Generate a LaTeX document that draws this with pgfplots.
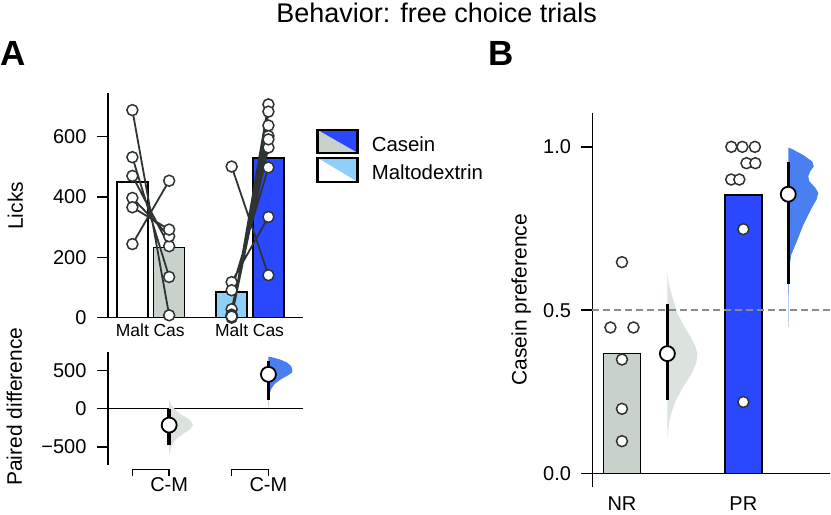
\documentclass[border=0pt]{standalone}
\usepackage{pgfplots}
\pgfplotsset{compat=1.18}
\usepackage{fontspec}
\setmainfont{Liberation Sans}
\definecolor{barGrey}{HTML}{C8D2CB}
\definecolor{barBlue}{HTML}{2A48FF}
\definecolor{barLight}{HTML}{8ED0F8}
\definecolor{violGrey}{HTML}{DCE3DE}
\definecolor{violBlue}{HTML}{4A7FF2}
\definecolor{lineDark}{HTML}{2E3333}
\newcommand{\fs}[1]{\fontsize{#1}{#1}\selectfont}
\begin{document}
\begin{tikzpicture}[x=1pt,y=1pt]
\path (0,0) rectangle (831,511);
\pgfplotsset{
 common/.style={
   scale only axis, clip=false,
   axis y line=left, axis x line=bottom,
   axis line style={-, line width=1.5pt, black},
   xtick style={draw=none},
   ytick style={line width=1.5pt, black},
   tick align=outside, major tick length=11pt,
   ticklabel style={font=\fs{20}},
   yticklabel shift=7pt,
 }
}
% ---------- Panel A top ----------
\begin{axis}[common, at={(108pt,193pt)}, anchor=south west, width=195pt, height=225pt,
 xmin=-0.666, xmax=4.633, ymin=0, ymax=745,
 ytick={0,200,400,600}, yticklabels={0,200,400,600},
 xtick={0,1,2.7,3.7}, xticklabels={Malt,Cas,Malt,Cas},
 xticklabel style={font=\fs{17.5}, yshift=8pt}]
\addplot[ybar, bar width=31pt, bar shift=0pt, fill=white, draw=black, line width=1.5pt] coordinates {(0,449.5)};
\addplot[ybar, bar width=31pt, bar shift=0pt, fill=barGrey, draw=black, line width=1.5pt] coordinates {(1,232.7)};
\addplot[ybar, bar width=31pt, bar shift=0pt, fill=barLight, draw=black, line width=1.5pt] coordinates {(2.7,85)};
\addplot[ybar, bar width=31pt, bar shift=0pt, fill=barBlue, draw=black, line width=1.5pt] coordinates {(3.7,528.6)};
\addplot[lineDark, line width=1.8pt, unbounded coords=jump] coordinates {
 (0,688) (1,8) (0,nan)
 (0,532) (1,135) (0,nan)
 (0,470) (1,237) (0,nan)
 (0,397) (1,270) (0,nan)
 (0,366) (1,292) (0,nan)
 (0,244) (1,454) (0,nan)
 (2.7,501) (3.7,141) (0,nan)
 (2.7,118) (3.7,334) (0,nan)
 (2.7,91) (3.7,498) (0,nan)
 (2.7,28) (3.7,564) (0,nan)
 (2.7,0) (3.7,707) (0,nan)
 (2.7,5) (3.7,683) (0,nan)
 (2.7,10) (3.7,637) (0,nan)
 (2.7,8) (3.7,602) (0,nan)
 (2.7,4) (3.7,591)
};
\addplot[only marks, mark=*, mark size=5.5pt, mark options={fill=white, draw=lineDark, line width=1.5pt}] coordinates {
 (0,688) (0,532) (0,470) (0,397) (0,366) (0,244)
 (1,8) (1,135) (1,237) (1,270) (1,292) (1,454)
 (2.7,501) (2.7,118) (2.7,91) (2.7,28) (2.7,0) (2.7,5) (2.7,10) (2.7,8) (2.7,4)
 (3.7,141) (3.7,334) (3.7,498) (3.7,564) (3.7,707) (3.7,683) (3.7,637) (3.7,602) (3.7,591)
};
\end{axis}
% ---------- Panel A bottom ----------
\begin{axis}[common, at={(108pt,46pt)}, anchor=south west, width=195pt, height=112.3pt,
 xmin=-0.666, xmax=4.633, ymin=-731, ymax=735,
 ytick={-500,0,500}, yticklabels={−500,0,500},
 x axis line style={draw=none},
 xtick={1,3.7}, xticklabels={C-M,C-M}, xticklabel style={yshift=2pt}]
\addplot[black, line width=1.5pt] coordinates {(-0.666,0) (4.633,0)};
\addplot[fill=violGrey, draw=none] coordinates {(1,120) (1.054,50) (1.136,0) (1.245,-50) (1.408,-100) (1.571,-150) (1.652,-210) (1.571,-270) (1.380,-330) (1.190,-400) (1.082,-470) (1.027,-550) (1,-620)} -- cycle;
\addplot[fill=violBlue, draw=none] coordinates {(3.7,0) (3.705,100) (3.727,180) (3.768,250) (3.863,320) (4.026,380) (4.216,430) (4.339,470) (4.352,500) (4.325,550) (4.216,600) (4.026,640) (3.809,670) (3.7,680)} -- cycle;
\addplot[black, line width=3.5pt] coordinates {(1,-478) (1,-5)};
\addplot[black, line width=3.5pt] coordinates {(3.7,117) (3.7,617)};
\addplot[only marks, mark=*, mark size=7.5pt, mark options={fill=white, draw=black, line width=1.8pt}] coordinates {(1,-215) (3.7,448)};
\addplot[black, line width=1.5pt] coordinates {(0,-874) (0,-796) (1,-796) (1,-874)};
\addplot[black, line width=1.5pt] coordinates {(2.7,-874) (2.7,-796) (3.7,-796) (3.7,-874)};
\end{axis}
% ---------- Panel B ----------
\begin{axis}[common, at={(593pt,24pt)}, anchor=south west, width=238pt, height=374pt,
 xmin=-0.243, xmax=1.716, ymin=-0.04, ymax=1.104,
 ytick={0,0.5,1}, yticklabels={0.0,0.5,1.0},
 x axis line style={draw=none},
 xtick={0,1}, xticklabels={NR,PR}, xticklabel style={yshift=4pt}]
\addplot[ybar, bar width=37pt, bar shift=0pt, fill=barGrey, draw=black, line width=1.5pt] coordinates {(0,0.367)};
\addplot[ybar, bar width=37pt, bar shift=0pt, fill=barBlue, draw=black, line width=1.5pt] coordinates {(1,0.852)};
\addplot[black, line width=1.5pt] coordinates {(-0.243,0) (1.716,0)};
\addplot[fill=violGrey, draw=none] coordinates {(0.374,0.61) (0.376,0.61) (0.386,0.58) (0.407,0.55) (0.432,0.52) (0.456,0.49) (0.514,0.45) (0.563,0.42) (0.604,0.39) (0.621,0.367) (0.613,0.34) (0.580,0.31) (0.530,0.28) (0.481,0.25) (0.440,0.22) (0.411,0.19) (0.390,0.16) (0.380,0.13) (0.374,0.11)} -- cycle;
\addplot[fill=violBlue, draw=none] coordinates {(1.370,0.998) (1.403,0.993) (1.493,0.975) (1.568,0.955) (1.580,0.94) (1.551,0.925) (1.535,0.91) (1.543,0.895) (1.592,0.875) (1.617,0.86) (1.605,0.84) (1.559,0.81) (1.493,0.76) (1.440,0.71) (1.395,0.67) (1.378,0.63) (1.374,0.55) (1.372,0.45) (1.370,0.45)} -- cycle;
\addplot[color={rgb,255:red,140;green,140;blue,140}, line width=1.5pt, dash pattern=on 7pt off 4pt] coordinates {(-0.243,0.5) (1.716,0.5)};
\addplot[black, line width=3.5pt] coordinates {(0.374,0.226) (0.374,0.519)};
\addplot[black, line width=3.5pt] coordinates {(1.370,0.581) (1.370,0.955)};
\addplot[only marks, mark=*, mark size=7.5pt, mark options={fill=white, draw=black, line width=1.8pt}] coordinates {(0.374,0.367) (1.370,0.855)};
\addplot[only marks, mark=*, mark size=5.5pt, mark options={fill=white, draw=lineDark, line width=1.5pt}] coordinates {
 (0,0.647) (-0.095,0.447) (0.095,0.447) (0,0.349) (0,0.198) (0,0.099)
 (0.901,1.0) (0.992,1.0) (1.095,1.0) (1.026,0.95) (1.099,0.95) (0.90,0.9) (0.967,0.9) (1.0,0.748) (1.0,0.219)
};
\end{axis}
% ---------- legend ----------
\fill[barGrey] (318,381) -- (358,358) -- (318,358) -- cycle;
\fill[barBlue] (318,381) -- (358,381) -- (358,358) -- cycle;
\draw[line width=2.5pt] (318,358) rectangle (358,381);
\fill[white] (318,353) -- (358,329) -- (318,329) -- cycle;
\fill[barLight] (318,353) -- (358,353) -- (358,329) -- cycle;
\draw[line width=2.5pt] (318,329) rectangle (358,353);
\node[anchor=base west, inner sep=0, font=\fs{20.4}] at (372,359.7) {Casein};
\node[anchor=base west, inner sep=0, font=\fs{20.4}] at (372,331.7) {Maltodextrin};
% ---------- titles and labels ----------
\node[anchor=base, inner sep=0, font=\fs{27}] at (437,488) {Behavior: free choice trials};
\node[anchor=base west, inner sep=0, font=\fs{35}\bfseries] at (0.5,445) {A};
\node[anchor=base west, inner sep=0, font=\fs{35}\bfseries] at (489,445) {B};
\node[rotate=90, anchor=base, inner sep=0, font=\fs{21}] at (23,305) {Licks};
\node[rotate=90, anchor=base, inner sep=0, font=\fs{21}] at (22,104) {Paired difference};
\node[rotate=90, anchor=base, inner sep=0, font=\fs{21}] at (527,211) {Casein preference};
\end{tikzpicture}
\end{document}
